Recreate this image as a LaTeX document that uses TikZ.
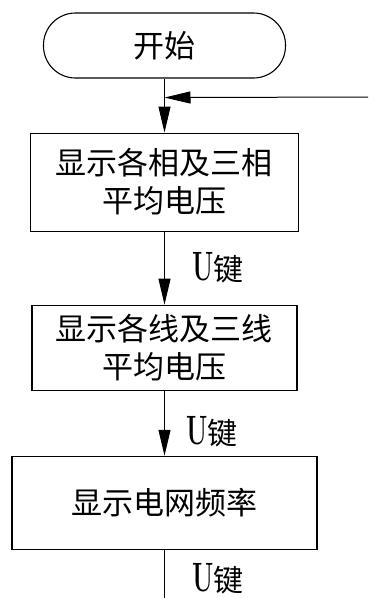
\documentclass[tikz,border=0pt]{standalone}
\usepackage{graphicx}
\usepackage{fontspec}
\newfontfamily\songti{Noto Sans CJK SC}
\newcommand\ujian{\scalebox{0.6}[1]{\fontsize{41}{41}\selectfont\bfseries U}\songti 键}
\usetikzlibrary{positioning, arrows.meta}

\begin{document}
\begin{tikzpicture}[x=1pt, y=-1pt,
      etape/.style={draw, line width=1.1pt, align=center,
                    font=\songti\fontsize{31}{38}\selectfont, inner sep=0pt},
      debut/.style={etape, rounded corners=32pt,
                    minimum width=242pt, minimum height=65pt},
      fleche/.style={-{Triangle[length=26pt, width=12pt]}, line width=1pt},
      trait/.style={line width=1pt},
      touche/.style={right=27pt, inner sep=0pt,
                     font=\fontsize{30}{30}\selectfont}]
    \useasboundingbox (0,0) rectangle (368,598);
    \node[debut] (start) at (164.5,45.5) {开始};
    \node[etape, below=54pt of start, minimum width=268pt,
          minimum height=98pt] (phase) {显示各相及三相\\平均电压};
    \node[etape, below=73pt of phase, minimum width=265pt,
          minimum height=85pt] (ligne) {显示各线及三线\\平均电压};
    \node[etape, below=65pt of ligne, minimum width=305pt,
          minimum height=93pt] (freq) {显示电网频率};
    \coordinate (jonction) at ([yshift=-19pt]start.south);
    \coordinate (retour) at (368,97);
    \coordinate (suite) at ([yshift=-51pt]freq.south);
    \draw[fleche] (start) -- (phase);
    \draw[fleche] (retour) -- (jonction);
    \draw[fleche] (phase) -- node[touche] {\ujian} (ligne);
    \draw[fleche] (ligne) -- node[touche, right=21pt, yshift=-8pt] {\ujian} (freq);
    \draw[trait] (freq) -- node[touche, yshift=-3pt] {\ujian} (suite);
\end{tikzpicture}
\end{document}
